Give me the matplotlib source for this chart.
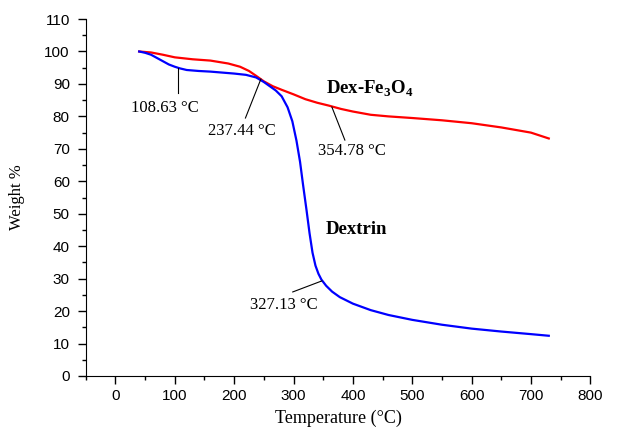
import matplotlib
matplotlib.use("Agg")
import matplotlib.pyplot as plt
from matplotlib.ticker import MultipleLocator

plt.rcParams["font.family"] = "Liberation Sans"
plt.rcParams["mathtext.fontset"] = "custom"
plt.rcParams["mathtext.rm"] = "Liberation Serif"
plt.rcParams["mathtext.bf"] = "Liberation Serif:bold"

# Dextrin (blue)
dex_t = [40, 50, 60, 70, 80, 90, 100, 108.6, 120, 140, 160, 180, 200, 220, 237,
         250, 260, 270, 280, 290, 298, 305, 311, 316, 322, 327, 332, 337, 342,
         347, 355, 365, 378, 400, 430, 460, 500, 550, 600, 650, 700, 730]
dex_w = [100, 99.6, 99.0, 98.0, 97.0, 96.0, 95.3, 94.8, 94.3, 94.0, 93.8, 93.5,
         93.2, 92.8, 92.0, 90.6, 89.3, 88.0, 86.2, 82.8, 78.5, 72.5, 66, 59,
         51, 44, 38, 34, 31.5, 29.7, 27.8, 26.0, 24.3, 22.3, 20.3, 18.8, 17.3,
         15.8, 14.6, 13.7, 12.9, 12.4]

# Dex-Fe3O4 (red)
fe_t = [40, 60, 80, 100, 130, 160, 190, 210, 225, 237, 250, 265, 280, 300, 320,
        340, 360, 380, 400, 430, 460, 500, 550, 600, 650, 700, 730]
fe_w = [100, 99.7, 99.0, 98.2, 97.6, 97.2, 96.3, 95.3, 94.0, 92.5, 90.8, 89.3,
        88.2, 86.8, 85.3, 84.2, 83.3, 82.3, 81.5, 80.5, 80.0, 79.5, 78.8, 77.9,
        76.6, 75.0, 73.2]

fig = plt.figure(figsize=(6.26, 4.28), dpi=100)
ax = fig.add_axes([0.137, 0.1215, 0.806, 0.834])

ax.plot(fe_t, fe_w, color="red", lw=1.6)
ax.plot(dex_t, dex_w, color="blue", lw=1.6)

ax.set_xlim(-50, 800)
ax.set_ylim(0, 110)
ax.xaxis.set_major_locator(MultipleLocator(100))
ax.xaxis.set_minor_locator(MultipleLocator(50))
ax.yaxis.set_major_locator(MultipleLocator(10))
ax.yaxis.set_minor_locator(MultipleLocator(5))
ax.spines["top"].set_visible(False)
ax.spines["right"].set_visible(False)
ax.tick_params(which="major", direction="out", length=5.5, width=1, labelsize=11)
ax.tick_params(axis="y", which="major", pad=6)
ax.tick_params(axis="x", which="major", pad=4)
ax.tick_params(which="minor", direction="out", length=3, width=1)

ax.set_xlabel("Temperature (°C)", family="Liberation Serif", fontsize=13)
ax.set_ylabel("Weight %", family="Liberation Serif", fontsize=12)
ax.xaxis.set_label_coords(0.5, -0.093)
ax.yaxis.set_label_coords(-0.121, 0.5)

afont = dict(family="Liberation Serif", fontsize=12, ha="center", va="center")
ax.plot([106, 106], [94.9, 87.2], color="black", lw=0.8)
ax.text(83, 82.6, "108.63 °C", **afont)
ax.plot([245, 219], [91.5, 79.5], color="black", lw=0.8)
ax.text(213, 75.5, "237.44 °C", **afont)
ax.plot([364.6, 386.5], [82.9, 72.7], color="black", lw=0.8)
ax.text(398, 69.3, "354.78 °C", **afont)
ax.plot([347.7, 298.7], [29.3, 25.9], color="black", lw=0.8)
ax.text(283.5, 21.9, "327.13 °C", **afont)

ax.text(428.7, 88.4, r"Dex-Fe$_\mathbf{3}$O$_\mathbf{4}$", family="Liberation Serif",
        fontsize=13.5, fontweight="bold", ha="center", va="center")
ax.text(406.7, 45, "Dextrin", family="Liberation Serif", fontsize=13.5,
        fontweight="bold", ha="center", va="center")

fig.savefig("out.png", dpi=100)
